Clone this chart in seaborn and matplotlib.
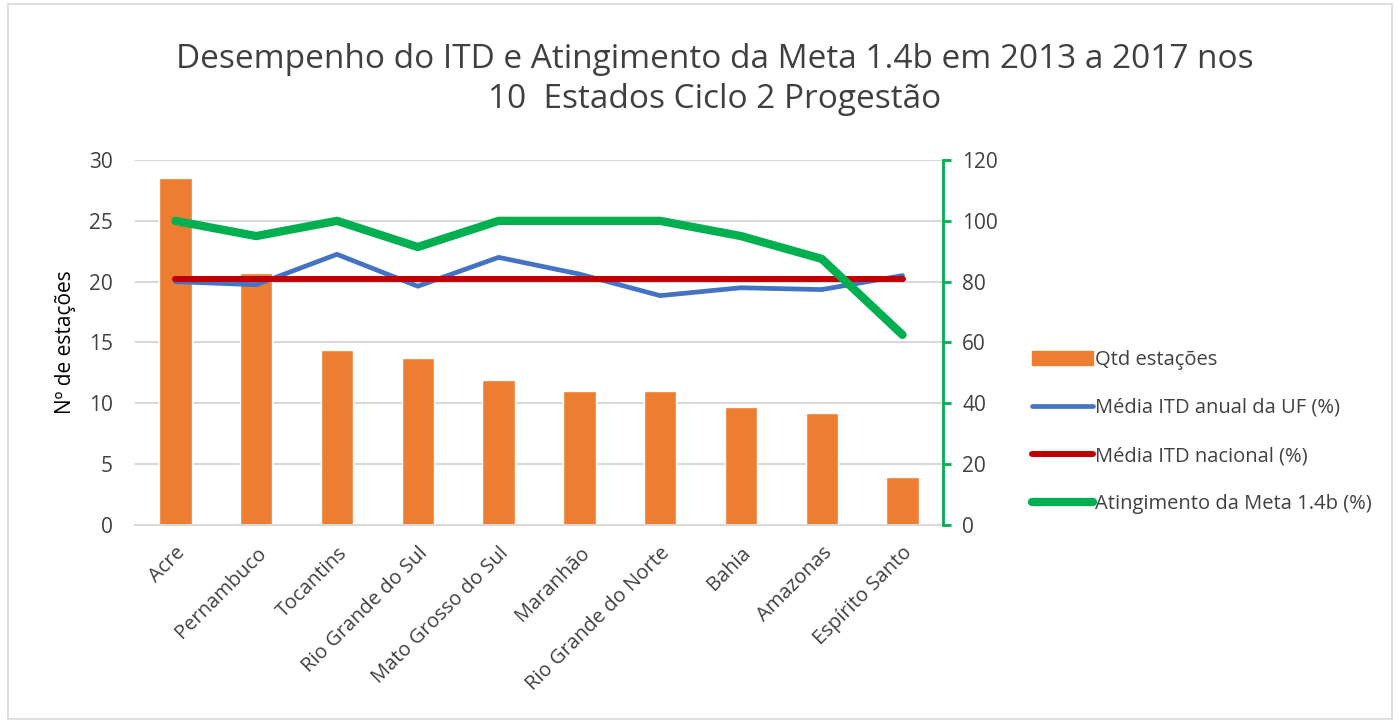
import numpy as np
import pandas as pd
import matplotlib.pyplot as plt
import seaborn as sns
from matplotlib.patches import Rectangle
from matplotlib.lines import Line2D
from matplotlib.patches import Patch

# data
estados = ["Acre", "Pernambuco", "Tocantins", "Rio Grande do Sul", "Mato Grosso do Sul",
           "Maranhão", "Rio Grande do Norte", "Bahia", "Amazonas", "Espírito Santo"]
qtd_estacoes = [28.5, 20.7, 14.4, 13.7, 11.9, 11.0, 11.0, 9.7, 9.2, 3.9]
media_itd_uf = [80.0, 79.0, 89.0, 78.5, 88.0, 82.5, 75.4, 78.0, 77.4, 82.0]
media_itd_nacional = [80.8] * 10
atingimento_meta = [100, 95, 100, 91.4, 100, 100, 100, 95, 87.5, 62.5]

df = pd.DataFrame({
    "Estado": estados,
    "Qtd": qtd_estacoes,
    "UF": media_itd_uf,
    "Nacional": media_itd_nacional,
    "Meta": atingimento_meta,
})
df["pos"] = np.arange(len(df))

# style
sns.set_theme(style="white")
plt.rcParams["font.family"] = ["Open Sans", "DejaVu Sans"]

c_bar = "#ED7D31"
c_blue = "#4472C4"
c_red = "#C00000"
c_green = "#00B050"
txt = "#404040"

fig = plt.figure(figsize=(13.99, 7.21), dpi=100)
ax = fig.add_axes([0.0965, 0.272, 0.5775, 0.506])

sns.barplot(data=df, x="Estado", y="Qtd", color=c_bar, width=0.4,
            saturation=1, ax=ax, zorder=2)
ax.set_ylim(0, 30)
ax.set_yticks(range(0, 31, 5))
ax.set_xlim(-0.5, 9.5)
ax.grid(axis="y", color="#d9d9d9", lw=1.5, zorder=0)
ax.set_axisbelow(True)
for s in ["top", "right", "left"]:
    ax.spines[s].set_visible(False)
ax.spines["bottom"].set_color("#d9d9d9")
ax.spines["bottom"].set_linewidth(1.5)
ax.set_xlabel("")
ax.set_ylabel("Nº de estações", fontsize=15, color="black", labelpad=9)
ax.tick_params(axis="y", labelsize=15, labelcolor=txt, length=0, pad=16)
ax.tick_params(axis="x", labelsize=14.5, labelcolor=txt, length=0, pad=13)
plt.setp(ax.get_xticklabels(), rotation=45, ha="right", rotation_mode="anchor")

ax2 = ax.twinx()
sns.lineplot(data=df, x="pos", y="UF", color=c_blue, lw=3.4, ax=ax2, zorder=3)
sns.lineplot(data=df, x="pos", y="Nacional", color=c_red, lw=4.3, ax=ax2, zorder=4)
sns.lineplot(data=df, x="pos", y="Meta", color=c_green, lw=6, ax=ax2, zorder=5)
for l in ax2.lines:
    l.set_solid_capstyle("round")
    l.set_solid_joinstyle("round")
ax2.set_ylim(0, 120)
ax2.set_yticks(range(0, 121, 20))
ax2.set_xlim(-0.5, 9.5)
ax2.set_ylabel("")
ax2.set_xlabel("")
for s in ["top", "left", "bottom"]:
    ax2.spines[s].set_visible(False)
ax2.spines["right"].set_color(c_green)
ax2.spines["right"].set_linewidth(2)
ax2.tick_params(axis="y", labelsize=15, labelcolor=txt, color=c_green,
                direction="out", length=6, width=2, pad=8)

fig.suptitle("Desempenho do ITD e Atingimento da Meta 1.4b em 2013 a 2017 nos\n10  Estados Ciclo 2 Progestão",
             x=0.511, y=0.94, fontsize=24, color=txt, linespacing=1.25)

handles = [
    Patch(facecolor=c_bar, edgecolor=c_bar),
    Line2D([], [], color=c_blue, lw=3.4, solid_capstyle="round"),
    Line2D([], [], color=c_red, lw=4.3, solid_capstyle="round"),
    Line2D([], [], color=c_green, lw=6, solid_capstyle="round"),
]
labels = ["Qtd estações", "Média ITD anual da UF (%)", "Média ITD nacional (%)",
          "Atingimento da Meta 1.4b (%)"]
fig.legend(handles, labels, loc="upper left", bbox_to_anchor=(0.725, 0.54),
           frameon=False, fontsize=14.5, handlelength=3.0, handletextpad=0.1,
           labelspacing=1.4, labelcolor=txt)

fig.add_artist(Rectangle((0.006, 0.003), 0.989, 0.992, transform=fig.transFigure,
                         fill=False, edgecolor="#d9d9d9", lw=1.2))

fig.savefig("out.png", dpi=100)
